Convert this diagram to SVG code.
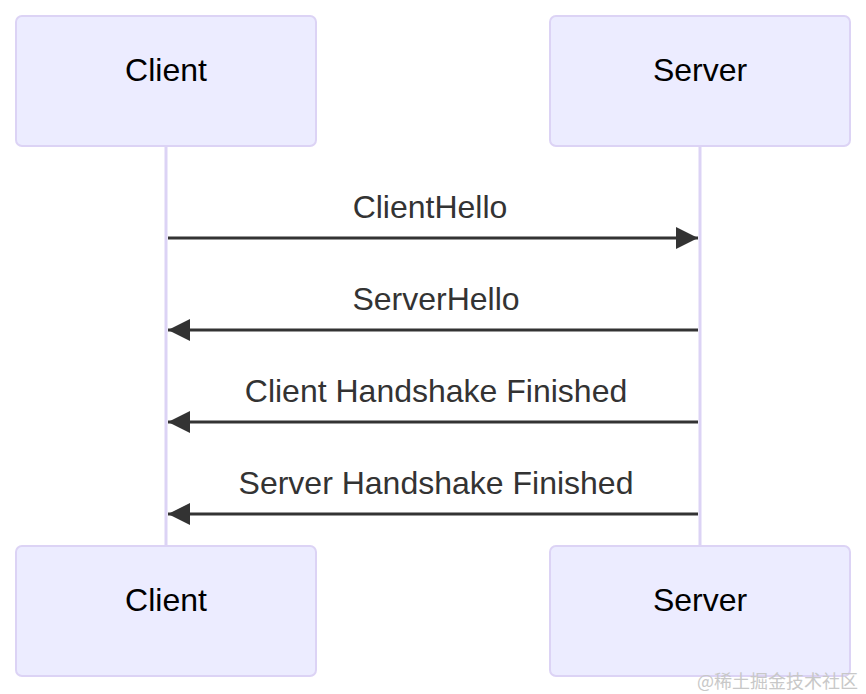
<svg xmlns="http://www.w3.org/2000/svg" width="866" height="694" viewBox="0 0 866 694">
<style>
.actor{fill:#ECECFF;stroke:#dcd3f5;stroke-width:2}
.alabel{font-family:"Liberation Sans",Arial,sans-serif;font-size:32px;fill:#000;text-anchor:middle}
.mlabel{font-family:"Liberation Sans",Arial,sans-serif;font-size:32px;fill:#333;text-anchor:middle}
.life{stroke:#dcd3f5;stroke-width:3}
.msg{stroke:#333;stroke-width:3;fill:none}
</style>
<defs>
<marker id="ah" viewBox="0 0 22 22" refX="22" refY="11" markerWidth="22" markerHeight="22" markerUnits="userSpaceOnUse" orient="auto">
<path d="M0,0 L22,11 L0,22 Z" fill="#333"/>
</marker>
</defs>
<rect width="866" height="694" fill="#fff"/>
<g id="lifelines">
<line class="life" x1="166" y1="146" x2="166" y2="546"/>
<line class="life" x1="700" y1="146" x2="700" y2="546"/>
</g>
<g id="client-top"><rect class="actor" x="16" y="16" width="300" height="130" rx="6"/><text class="alabel" x="166" y="81">Client</text></g>
<g id="server-top"><rect class="actor" x="550" y="16" width="300" height="130" rx="6"/><text class="alabel" x="700" y="81">Server</text></g>
<g id="client-bottom"><rect class="actor" x="16" y="546" width="300" height="130" rx="6"/><text class="alabel" x="166" y="611">Client</text></g>
<g id="server-bottom"><rect class="actor" x="550" y="546" width="300" height="130" rx="6"/><text class="alabel" x="700" y="611">Server</text></g>
<g id="connectors">
<line class="msg" x1="168" y1="238" x2="698" y2="238" marker-end="url(#ah)"/>
<text class="mlabel" x="430" y="218">ClientHello</text>
<line class="msg" x1="698" y1="330" x2="168" y2="330" marker-end="url(#ah)"/>
<text class="mlabel" x="436" y="310">ServerHello</text>
<line class="msg" x1="698" y1="422" x2="168" y2="422" marker-end="url(#ah)"/>
<text class="mlabel" x="436" y="402">Client Handshake Finished</text>
<line class="msg" x1="698" y1="514" x2="168" y2="514" marker-end="url(#ah)"/>
<text class="mlabel" x="436" y="494">Server Handshake Finished</text>
</g>
<text x="858" y="688" font-family="'Noto Sans CJK SC',sans-serif" font-size="18" fill="#c8c8c8" text-anchor="end">@稀土掘金技术社区</text>
</svg>
